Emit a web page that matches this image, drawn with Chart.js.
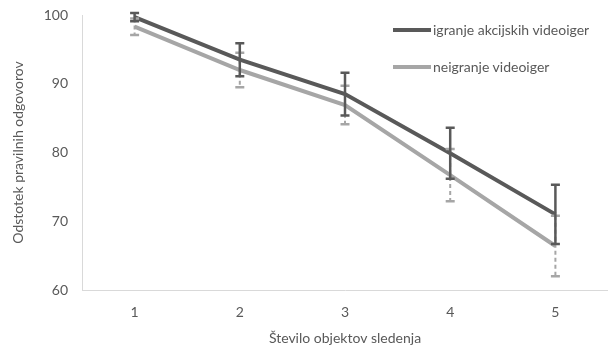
<!DOCTYPE html>
<html>
<head>
<meta charset="utf-8">
<script src="https://cdn.jsdelivr.net/npm/chart.js@4"></script>
<style>
  html, body { margin: 0; padding: 0; background: #fff; }
  #wrap { position: relative; width: 608px; height: 358px; }
  .legend { position: absolute; left: 393px; font-family: Lato, 'Open Sans', sans-serif; font-size: 14px; color: #595959; display: flex; align-items: center; white-space: nowrap; }
  .legend span.sw { display: inline-block; width: 38px; height: 4px; margin-right: 2px; }
</style>
</head>
<body>
<div id="wrap">
  <canvas id="chart" width="608" height="358"></canvas>
  <div class="legend" style="top:21px"><span class="sw" style="background:#595959"></span>igranje akcijskih videoiger</div>
  <div class="legend" style="top:58px"><span class="sw" style="background:#a6a6a6"></span>neigranje videoiger</div>
</div>
<script>
// Kategorije in vrednosti
const kategorije = ['1', '2', '3', '4', '5'];
const igralci = [99.7, 93.5, 88.5, 79.9, 71.0];
const igralciNapaka = [0.6, 2.4, 3.1, 3.7, 4.3];
const neigralci = [98.3, 92.0, 86.9, 76.7, 66.4];
const neigralciNapaka = [1.2, 2.5, 2.8, 3.8, 4.4];
const yTicks = [60, 70, 80, 90, 100];

const temna = '#595959';
const svetla = '#a6a6a6';

// Error bars risani preko skale
const errorBars = {
    id: 'errorBars',
    afterDatasetsDraw(chart) {
        const ctx = chart.ctx;
        const y = chart.scales.y;
        const sets = [
            { idx: 1, err: neigralciNapaka, color: svetla, dash: [4, 3], w: 2 },
            { idx: 0, err: igralciNapaka, color: temna, dash: [], w: 2.5 }
        ];
        sets.forEach(s => {
            const meta = chart.getDatasetMeta(s.idx);
            const data = chart.data.datasets[s.idx].data;
            meta.data.forEach((pt, i) => {
                const yHi = y.getPixelForValue(data[i] + s.err[i]);
                const yLo = y.getPixelForValue(data[i] - s.err[i]);
                ctx.save();
                ctx.strokeStyle = s.color;
                ctx.lineWidth = s.w;
                ctx.setLineDash(s.dash);
                ctx.beginPath();
                ctx.moveTo(pt.x, yHi);
                ctx.lineTo(pt.x, yLo);
                ctx.stroke();
                ctx.setLineDash([]);
                ctx.lineWidth = 2.5;
                ctx.beginPath();
                ctx.moveTo(pt.x - 4.5, yHi); ctx.lineTo(pt.x + 4.5, yHi);
                ctx.moveTo(pt.x - 4.5, yLo); ctx.lineTo(pt.x + 4.5, yLo);
                ctx.stroke();
                ctx.restore();
            });
        });
    }
};

new Chart(document.getElementById('chart'), {
    type: 'line',
    data: {
        labels: kategorije,
        datasets: [
            {
                label: 'igranje akcijskih videoiger',
                data: igralci,
                borderColor: temna,
                borderWidth: 4,
                pointRadius: 0,
                tension: 0
            },
            {
                label: 'neigranje videoiger',
                data: neigralci,
                borderColor: svetla,
                borderWidth: 4,
                pointRadius: 0,
                tension: 0
            }
        ]
    },
    options: {
        responsive: false,
        animation: false,
        layout: { padding: { top: 15, right: -3, left: 0, bottom: 0 } },
        plugins: {
            legend: { display: false },
            tooltip: { enabled: false }
        },
        scales: {
            x: {
                offset: true,
                grid: { display: false, drawTicks: false },
                border: { color: '#d9d9d9', width: 1 },
                ticks: { color: temna, font: { family: 'Lato', size: 14 }, padding: 14 },
                title: { display: true, text: 'Število objektov sledenja', color: temna, font: { family: 'Lato', size: 14 }, padding: { top: 0, bottom: 11 } },
                afterFit(s) { s.height = 68; s.paddingLeft = 0; s.paddingRight = 0; }
            },
            y: {
                min: 60,
                max: 100,
                grid: { display: false, drawTicks: false },
                border: { color: '#d9d9d9', width: 1 },
                afterBuildTicks(s) { s.ticks = yTicks.map(v => ({ value: v })); },
                ticks: { color: temna, font: { family: 'Lato', size: 14 }, padding: 14 },
                title: { display: true, text: 'Odstotek pravilnih odgovorov', color: temna, font: { family: 'Lato', size: 14 }, padding: { top: 10, bottom: 4 } },
                afterFit(s) { s.width = 82; s.paddingTop = 0; s.paddingBottom = 0; }
            }
        }
    },
    plugins: [errorBars]
});
</script>
</body>
</html>
